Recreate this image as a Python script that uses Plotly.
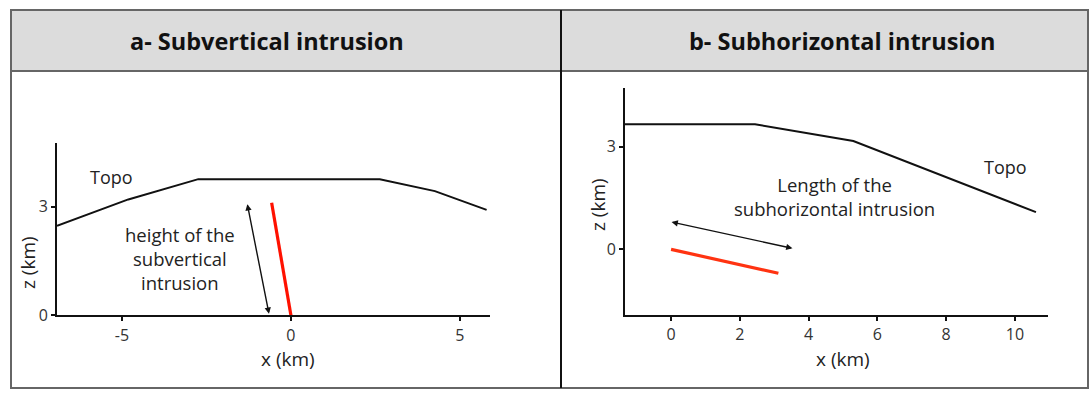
import plotly.graph_objects as go

W, H = 1089, 394

# ---- Panel a data (subvertical intrusion) ----
topo_a_x = [-6.92, -4.81, -2.74, 2.63, 4.26, 5.79]
topo_a_z = [2.47, 3.20, 3.76, 3.76, 3.43, 2.91]
intr_a_x = [0.0, -0.57]
intr_a_z = [0.0, 3.11]
arrow_a_x = [-0.64, -1.29]
arrow_a_z = [0.0, 3.07]
xticks_a = [-5, 0, 5]
xticklabels_a = ["-5", "0", "5"]
zticks_a = [0, 3]
zticklabels_a = ["0", "3"]

# ---- Panel b data (subhorizontal intrusion) ----
topo_b_x = [-1.34, 2.44, 5.30, 10.61]
topo_b_z = [3.66, 3.66, 3.17, 1.09]
intr_b_x = [0.0, 3.12]
intr_b_z = [0.0, -0.70]
arrow_b_x = [-0.03, 3.53]
arrow_b_z = [0.81, 0.03]
xticks_b = [0, 2, 4, 6, 8, 10]
xticklabels_b = ["0", "2", "4", "6", "8", "10"]
zticks_b = [0, 3]
zticklabels_b = ["0", "3"]

titles = ["a- Subvertical intrusion", "b- Subhorizontal intrusion"]


def px(x):
    return x / W


def py(y):
    return (H - y) / H


FONT = "Open Sans"
TXT = "#222222"

fig = go.Figure()

fig.add_trace(go.Scatter(x=topo_a_x, y=topo_a_z, mode="lines",
                         line=dict(color="#111111", width=2), xaxis="x", yaxis="y",
                         showlegend=False, hoverinfo="skip"))
fig.add_trace(go.Scatter(x=intr_a_x, y=intr_a_z, mode="lines",
                         line=dict(color="#ff1100", width=3.2), xaxis="x", yaxis="y",
                         showlegend=False, hoverinfo="skip"))
fig.add_trace(go.Scatter(x=topo_b_x, y=topo_b_z, mode="lines",
                         line=dict(color="#111111", width=2), xaxis="x2", yaxis="y2",
                         showlegend=False, hoverinfo="skip"))
fig.add_trace(go.Scatter(x=intr_b_x, y=intr_b_z, mode="lines",
                         line=dict(color="#ff3311", width=3.2), xaxis="x2", yaxis="y2",
                         showlegend=False, hoverinfo="skip"))

axis_common = dict(showline=True, linecolor="#111111", linewidth=2, mirror=False,
                   showgrid=False, zeroline=False, ticks="outside", ticklen=4,
                   tickwidth=1.5, tickcolor="#111111", automargin=False,
                   tickfont=dict(family=FONT, size=16, color="#333333"), fixedrange=True)

fig.update_layout(
    template="none",
    width=W, height=H, autosize=False,
    margin=dict(l=0, r=0, t=0, b=0, pad=0),
    paper_bgcolor="white", plot_bgcolor="white",
    xaxis=dict(domain=[px(57), px(490)], range=[-6.92, 5.89], tickmode="array",
               tickvals=xticks_a, ticktext=xticklabels_a, anchor="y", **axis_common),
    yaxis=dict(domain=[py(315.3), py(143.3)], range=[0, 4.75], tickmode="array",
               tickvals=zticks_a, ticktext=zticklabels_a, anchor="x", **axis_common),
    xaxis2=dict(domain=[px(625), px(1048)], range=[-1.34, 10.96], tickmode="array",
                tickvals=xticks_b, ticktext=xticklabels_b, anchor="y2", **axis_common),
    yaxis2=dict(domain=[py(315), py(88)], range=[-1.92, 4.72], tickmode="array",
                tickvals=zticks_b, ticktext=zticklabels_b, anchor="x2", **axis_common),
)

shapes = [
    # header band
    dict(type="rect", xref="paper", yref="paper", x0=px(11), x1=px(1088), y0=py(71), y1=py(10),
         fillcolor="#dcdcdc", line=dict(width=0), layer="below"),
    # header bottom line
    dict(type="line", xref="paper", yref="paper", x0=px(11), x1=px(1088), y0=py(71), y1=py(71),
         line=dict(color="#666666", width=2)),
    # outer border
    dict(type="rect", xref="paper", yref="paper", x0=px(11), x1=px(1088), y0=py(388), y1=py(10),
         line=dict(color="#666666", width=2)),
    # divider
    dict(type="line", xref="paper", yref="paper", x0=px(561), x1=px(561), y0=py(388), y1=py(10),
         line=dict(color="#111111", width=2)),
]
fig.update_layout(shapes=shapes)

ann = []
# panel titles
for t, x in zip(titles, [267, 842]):
    ann.append(dict(text="<b>" + t + "</b>", xref="paper", yref="paper", x=px(x), y=py(41),
                    xanchor="center", yanchor="middle", showarrow=False,
                    font=dict(family=FONT, size=23.5, color="#111111")))
# axis titles
for (x, y, t, ang) in [(288, 359, "x (km)", 0), (28, 263, "z (km)", -90),
                       (843, 359, "x (km)", 0), (598, 205, "z (km)", -90)]:
    ann.append(dict(text=t, xref="paper", yref="paper", x=px(x), y=py(y), showarrow=False,
                    xanchor="center", yanchor="middle", borderpad=0,
                    textangle=ang, font=dict(family=FONT, size=19, color=TXT)))
# text labels panel a
ann.append(dict(text="Topo", xref="x", yref="y", x=-5.3, y=3.83, showarrow=False,
                xanchor="center", yanchor="middle",
                font=dict(family=FONT, size=18, color=TXT)))
ann.append(dict(text="height of the<br>subvertical<br>intrusion", xref="x", yref="y",
                x=-3.28, y=1.58, showarrow=False, align="center",
                xanchor="center", yanchor="middle",
                font=dict(family=FONT, size=18.5, color=TXT)))
# text labels panel b
ann.append(dict(text="Topo", xref="x2", yref="y2", x=9.72, y=2.42, showarrow=False,
                xanchor="center", yanchor="middle",
                font=dict(family=FONT, size=18, color=TXT)))
ann.append(dict(text="Length of the<br>subhorizontal intrusion", xref="x2", yref="y2",
                x=4.75, y=1.56, showarrow=False, align="center",
                xanchor="center", yanchor="middle",
                font=dict(family=FONT, size=18.5, color=TXT)))
# double-headed arrows
ann.append(dict(text="", xref="x", yref="y", axref="x", ayref="y",
                x=arrow_a_x[1], y=arrow_a_z[1], ax=arrow_a_x[0], ay=arrow_a_z[0],
                showarrow=True, arrowhead=2, startarrowhead=2, arrowside="end+start",
                arrowsize=0.9, startarrowsize=0.9, arrowwidth=1.4, arrowcolor="#111111"))
ann.append(dict(text="", xref="x2", yref="y2", axref="x2", ayref="y2",
                x=arrow_b_x[1], y=arrow_b_z[1], ax=arrow_b_x[0], ay=arrow_b_z[0],
                showarrow=True, arrowhead=2, startarrowhead=2, arrowside="end+start",
                arrowsize=0.9, startarrowsize=0.9, arrowwidth=1.4, arrowcolor="#111111"))
fig.update_layout(annotations=ann)

fig.write_html("out.html", config={"displayModeBar": False},
               post_script="document.body.style.margin='0';document.body.style.overflow='hidden';")
